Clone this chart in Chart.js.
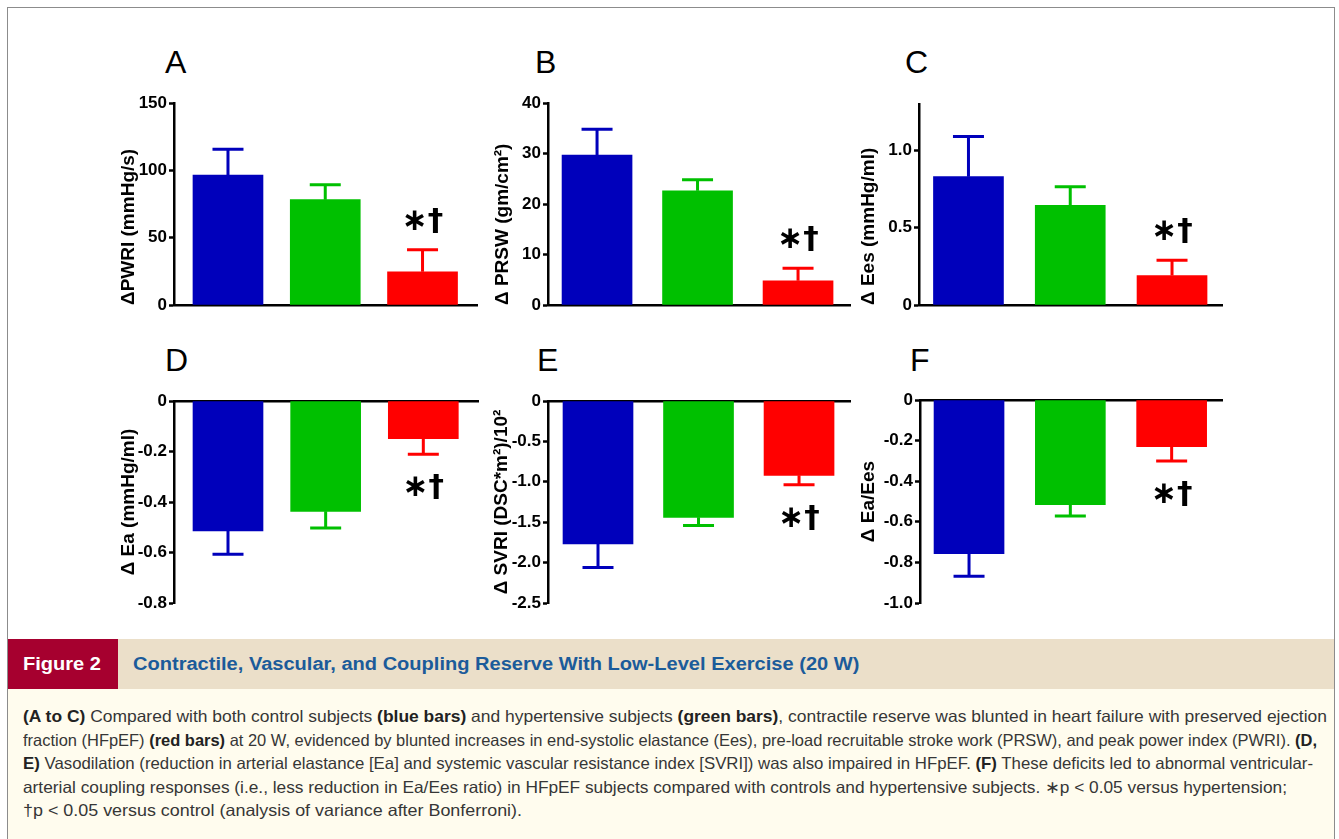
<!DOCTYPE html>
<html>
<head>
<meta charset="utf-8">
<script src="https://cdn.jsdelivr.net/npm/chart.js@4.4.0/dist/chart.umd.min.js"></script>
<style>
  html, body { margin: 0; padding: 0; background: #fff; }
  body { width: 1339px; height: 839px; position: relative; overflow: hidden; font-family: "Liberation Sans", Arial, sans-serif; }
  #frame { position: absolute; left: 7px; top: 7px; width: 1328px; height: 845px; border: 1px solid #8c8c8c; box-sizing: border-box; }
  canvas { position: absolute; }
  .letter { position: absolute; font: 32px "Liberation Sans", Arial, sans-serif; line-height: 32px; color: #000; }
  #band { position: absolute; left: 8px; top: 639px; width: 1326px; height: 50px; background: #ebdfc9; }
  #tag { position: absolute; left: 8px; top: 639px; width: 110px; height: 50px; background: #a6002f; }
  .head { position: absolute; top: 653px; white-space: nowrap; font: bold 18px "Liberation Sans", Arial, sans-serif; line-height: 22px; transform-origin: 0 50%; }
  #tagtext { left: 23px; color: #fff; }
  #title { left: 133px; color: #1b5b9a; }
  #body { position: absolute; left: 8px; top: 689px; width: 1326px; height: 150px; background: #fffcee; }
  #caption { position: absolute; left: 23px; top: 705px; white-space: nowrap; font: 16.5px "Liberation Sans", Arial, sans-serif; line-height: 23.5px; color: #363636; }
  #caption .ln { display: inline-block; transform-origin: 0 50%; }
  #caption b { color: #222; }
</style>
</head>
<body>
<div id="frame"></div>

<canvas id="chartA"></canvas>
<canvas id="chartB"></canvas>
<canvas id="chartC"></canvas>
<canvas id="chartD"></canvas>
<canvas id="chartE"></canvas>
<canvas id="chartF"></canvas>

<div class="letter" style="left:165px;top:46px">A</div>
<div class="letter" style="left:535px;top:46px">B</div>
<div class="letter" style="left:905px;top:46px">C</div>
<div class="letter" style="left:165px;top:344px">D</div>
<div class="letter" style="left:537px;top:344px">E</div>
<div class="letter" style="left:910px;top:344px">F</div>

<div id="band"></div>
<div id="tag"></div>
<div class="head" id="tagtext">Figure 2</div>
<div class="head" id="title">Contractile, Vascular, and Coupling Reserve With Low-Level Exercise (20 W)</div>
<div id="body"></div>
<div id="caption"><span class="ln" data-end="1327"><b>(A to C)</b> Compared with both control subjects <b>(blue bars)</b> and hypertensive subjects <b>(green bars)</b>, contractile reserve was blunted in heart failure with preserved ejection</span><br><span class="ln" data-end="1317">fraction (HFpEF) <b>(red bars)</b> at 20 W, evidenced by blunted increases in end-systolic elastance (Ees), pre-load recruitable stroke work (PRSW), and peak power index (PWRI). <b>(D,</b></span><br><span class="ln" data-end="1313"><b>E)</b> Vasodilation (reduction in arterial elastance [Ea] and systemic vascular resistance index [SVRI]) was also impaired in HFpEF. <b>(F)</b> These deficits led to abnormal ventricular-</span><br><span class="ln" data-end="1287">arterial coupling responses (i.e., less reduction in Ea/Ees ratio) in HFpEF subjects compared with controls and hypertensive subjects. ∗p &lt; 0.05 versus hypertension;</span><br><span class="ln" data-end="522">†p &lt; 0.05 versus control (analysis of variance after Bonferroni).</span></div>

<script>
'use strict';

/* global Chart */

// bar order: control, hypertensive, HFpEF
const groups = ['Control', 'Hypertension', 'HFpEF'];
const barColors = ['#0000bb', '#00c000', '#ff0000'];
const sigMarks = ['', '', '∗†'];

// A - peak power index
const pwriMean = [96.5, 78.2, 24.7];
const pwriSem = [19.1, 11.1, 16.4];
const pwriTicks = [0, 50, 100, 150];
const pwriTickLabels = ['0', '50', '100', '150'];

// B - preload recruitable stroke work
const prswMean = [29.7, 22.6, 4.8];
const prswSem = [5.1, 2.2, 2.5];
const prswTicks = [0, 10, 20, 30, 40];
const prswTickLabels = ['0', '10', '20', '30', '40'];

// C - end-systolic elastance
const eesMean = [0.83, 0.645, 0.19];
const eesSem = [0.26, 0.12, 0.10];
const eesTicks = [0, 0.5, 1.0];
const eesTickLabels = ['0', '0.5', '1.0'];

// D - arterial elastance
const eaMean = [-0.515, -0.437, -0.149];
const eaSem = [0.092, 0.066, 0.062];
const eaTicks = [-0.8, -0.6, -0.4, -0.2, 0];
const eaTickLabels = ['-0.8', '-0.6', '-0.4', '-0.2', '0'];

// E - systemic vascular resistance index
const svriMean = [-1.77, -1.44, -0.92];
const svriSem = [0.29, 0.10, 0.115];
const svriTicks = [-2.5, -2.0, -1.5, -1.0, -0.5, 0];
const svriTickLabels = ['-2.5', '-2.0', '-1.5', '-1.0', '-0.5', '0'];

// F - coupling ratio
const couplingMean = [-0.757, -0.515, -0.23];
const couplingSem = [0.111, 0.056, 0.07];
const couplingTicks = [-1.0, -0.8, -0.6, -0.4, -0.2, 0];
const couplingTickLabels = ['-1.0', '-0.8', '-0.6', '-0.4', '-0.2', '0'];

Chart.defaults.font.family = '"Liberation Sans", Arial, sans-serif';
Chart.defaults.color = '#000';

const AXIS_W = 74; // room left of the y axis inside each canvas
const PAD_TOP = 13, PAD_RIGHT = 13, PAD_BOTTOM = 15;
const TITLE_SIZE = 19;

// one-sided sem whiskers plus the significance mark over the HFpEF bar
const errorBars = {
  id: 'errorBars',
  afterDatasetsDraw(chart) {
    const { ctx } = chart;
    const y = chart.scales.y;
    const ds = chart.data.datasets[0];
    chart.getDatasetMeta(0).data.forEach((bar, i) => {
      const v = ds.data[i].y;
      const tip = v + Math.sign(v) * ds.sem[i];
      const y0 = y.getPixelForValue(v);
      const y1 = y.getPixelForValue(tip);
      ctx.save();
      ctx.strokeStyle = barColors[i];
      ctx.lineWidth = 3;
      ctx.beginPath();
      ctx.moveTo(bar.x, y0);
      ctx.lineTo(bar.x, y1);
      ctx.moveTo(bar.x - 15.5, y1);
      ctx.lineTo(bar.x + 15.5, y1);
      ctx.stroke();
      if (sigMarks[i]) {
        ctx.fillStyle = '#000';
        ctx.font = 'bold 31px "DejaVu Sans", sans-serif';
        ctx.textAlign = 'center';
        ctx.textBaseline = 'middle';
        ctx.fillText(sigMarks[i], bar.x, v > 0 ? y1 - 28 : y1 + 34);
      }
      ctx.restore();
    });
  }
};

function makePanel(p) {
  const canvas = document.getElementById(p.id);
  const left = p.axisX - AXIS_W;
  const top = p.top - PAD_TOP;
  const width = p.right - left + PAD_RIGHT;
  const height = p.bottom - p.top + PAD_TOP + PAD_BOTTOM;
  canvas.width = width;
  canvas.height = height;
  canvas.style.left = left + 'px';
  canvas.style.top = top + 'px';

  new Chart(canvas, {
    type: 'bar',
    data: {
      labels: groups,
      datasets: [{
        data: p.mean.map((v, i) => ({ x: i, y: v })),
        sem: p.sem,
        backgroundColor: barColors,
        borderWidth: 0,
        barThickness: 70
      }]
    },
    options: {
      responsive: false,
      animation: false,
      layout: { padding: { left: 0, top: PAD_TOP, right: PAD_RIGHT, bottom: PAD_BOTTOM } },
      plugins: { legend: { display: false }, tooltip: { enabled: false } },
      scales: {
        x: {
          type: 'linear',
          offset: false,
          position: p.mean[0] < 0 ? 'top' : 'bottom',
          min: p.xMin,
          max: p.xMax,
          afterBuildTicks: s => { s.ticks = groups.map((g, i) => ({ value: i })); },
          ticks: { display: false },
          grid: { display: false, drawTicks: false, offset: false },
          border: { display: true, color: '#000', width: 2.5 }
        },
        y: {
          min: p.yMin,
          max: p.yMax,
          afterBuildTicks: s => { s.ticks = p.ticks.map(v => ({ value: v })); },
          afterFit: s => { s.width = AXIS_W; },
          ticks: {
            padding: 2,
            color: '#000',
            font: { size: 17, weight: 'bold' },
            callback: v => p.tickLabels[p.ticks.indexOf(v)]
          },
          grid: {
            display: true,
            drawOnChartArea: false,
            drawTicks: true,
            tickLength: 5,
            tickWidth: 2.5,
            tickColor: '#000'
          },
          border: { display: true, color: '#000', width: 2.5 },
          title: {
            display: true,
            text: p.title,
            align: p.titleAlign,
            color: '#000',
            font: { size: TITLE_SIZE, weight: 'bold' },
            padding: { top: AXIS_W - p.titleGap - TITLE_SIZE * 0.6, bottom: 0 }
          }
        }
      }
    },
    plugins: [errorBars]
  });
}

const panels = [
  { id: 'chartA', mean: pwriMean, sem: pwriSem, ticks: pwriTicks, tickLabels: pwriTickLabels,
    yMin: 0, yMax: 150, title: '\u0394PWRI (mmHg/s)', titleAlign: 'start', titleGap: 45,
    axisX: 174, top: 103, bottom: 305, right: 477, xMin: -0.555, xMax: 2.56 },
  { id: 'chartB', mean: prswMean, sem: prswSem, ticks: prswTicks, tickLabels: prswTickLabels,
    yMin: 0, yMax: 40, title: '\u0394 PRSW (gm/cm\u00b2)', titleAlign: 'start', titleGap: 45,
    axisX: 548, top: 103, bottom: 305, right: 850, xMin: -0.488, xMax: 2.517 },
  { id: 'chartC', mean: eesMean, sem: eesSem, ticks: eesTicks, tickLabels: eesTickLabels,
    yMin: 0, yMax: 1.3, title: '\u0394 Ees (mmHg/ml)', titleAlign: 'start', titleGap: 50,
    axisX: 919, top: 104, bottom: 305, right: 1222, xMin: -0.486, xMax: 2.491 },
  { id: 'chartD', mean: eaMean, sem: eaSem, ticks: eaTicks, tickLabels: eaTickLabels,
    yMin: -0.8, yMax: 0, title: '\u0394 Ea (mmHg/ml)', titleAlign: 'center', titleGap: 45,
    axisX: 174, top: 401, bottom: 603, right: 478, xMin: -0.553, xMax: 2.56 },
  { id: 'chartE', mean: svriMean, sem: svriSem, ticks: svriTicks, tickLabels: svriTickLabels,
    yMin: -2.5, yMax: 0, title: '\u0394 SVRI (DSC*m\u00b2)/10\u00b2', titleAlign: 'center', titleGap: 46,
    axisX: 548, top: 401, bottom: 603, right: 850, xMin: -0.4975, xMax: 2.507 },
  { id: 'chartF', mean: couplingMean, sem: couplingSem, ticks: couplingTicks, tickLabels: couplingTickLabels,
    yMin: -1.0, yMax: 0, title: '\u0394 Ea/Ees', titleAlign: 'center', titleGap: 51,
    axisX: 920, top: 400, bottom: 603, right: 1222, xMin: -0.484, xMax: 2.497 }
];

panels.forEach(makePanel);

// squeeze the caption lines to the printed widths
const tag = document.getElementById('tagtext');
const k = 78 / tag.getBoundingClientRect().width;
tag.style.transform = 'scaleX(' + k + ')';
document.getElementById('title').style.transform = 'scaleX(' + k + ')';
document.querySelectorAll('#caption .ln').forEach(ln => {
  const r = ln.getBoundingClientRect();
  ln.style.transform = 'scaleX(' + ((Number(ln.dataset.end) - r.left) / r.width) + ')';
});
</script>
</body>
</html>
